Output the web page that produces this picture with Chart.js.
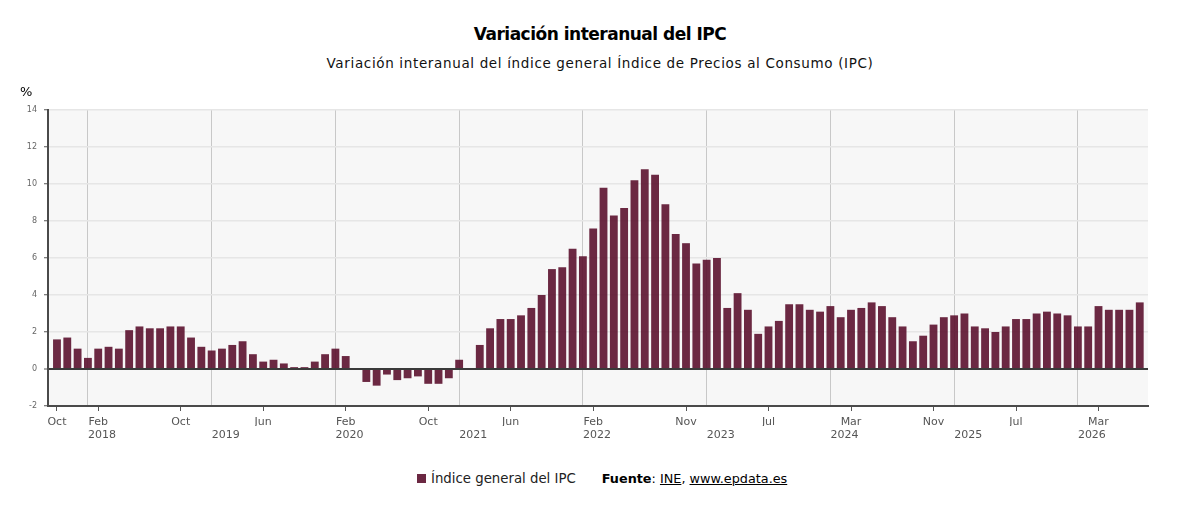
<!DOCTYPE html>
<html lang="es">
<head>
  <meta charset="UTF-8">
  <title>Variación interanual del IPC</title>
  <script src="https://cdn.jsdelivr.net/npm/chart.js"></script>
  <style>
    body { margin: 0; background: #fff; font-family: 'DejaVu Sans', sans-serif; }
    #wrap { position: relative; width: 1200px; height: 515px; }
    #box { position: absolute; left: 0; top: 0; width: 1200px; height: 455px; }
    .t { position: absolute; left: 0; width: 1200px; text-align: center; white-space: nowrap; }
    #title { top: 24px; font-size: 17px; line-height: 20px; font-weight: bold; letter-spacing: -0.5px; color: #000; }
    #subtitle { top: 54px; font-size: 13.5px; line-height: 18px; letter-spacing: 0.65px; color: #111; }
    #unit { position: absolute; left: 20px; top: 84px; font-size: 13px; color: #000; }
    #foot { position: absolute; left: 417px; top: 471px; font-size: 13.3px; color: #222; display: flex; align-items: center; white-space: nowrap; }
    #foot .sq { display: inline-block; width: 9px; height: 9px; background: #6b2842; margin-right: 5px; }
    #foot .src { margin-left: 26px; color: #000; font-size: 12.8px; }
    #foot u { text-decoration: underline; }
  </style>
  <script>
    // serie mensual desde oct 2017
    const startYear = 2017
    const startMonth = 9 // octubre
    const monthNames = ['Ene', 'Feb', 'Mar', 'Abr', 'May', 'Jun', 'Jul', 'Ago', 'Sep', 'Oct', 'Nov', 'Dic']

    const ipc = [
      1.6, 1.7, 1.1,
      0.6, 1.1, 1.2, 1.1, 2.1, 2.3, 2.2, 2.2, 2.3, 2.3, 1.7, 1.2,
      1.0, 1.1, 1.3, 1.5, 0.8, 0.4, 0.5, 0.3, 0.1, 0.1, 0.4, 0.8,
      1.1, 0.7, 0.0, -0.7, -0.9, -0.3, -0.6, -0.5, -0.4, -0.8, -0.8, -0.5,
      0.5, 0.0, 1.3, 2.2, 2.7, 2.7, 2.9, 3.3, 4.0, 5.4, 5.5, 6.5,
      6.1, 7.6, 9.8, 8.3, 8.7, 10.2, 10.8, 10.5, 8.9, 7.3, 6.8, 5.7,
      5.9, 6.0, 3.3, 4.1, 3.2, 1.9, 2.3, 2.6, 3.5, 3.5, 3.2, 3.1,
      3.4, 2.8, 3.2, 3.3, 3.6, 3.4, 2.8, 2.3, 1.5, 1.8, 2.4, 2.8,
      2.9, 3.0, 2.3, 2.2, 2.0, 2.3, 2.7, 2.7, 3.0, 3.1, 3.0, 2.9,
      2.3, 2.3, 3.4, 3.2, 3.2, 3.2, 3.6
    ]

    // etiquetas del eje: mes marcado -> texto
    const monthTicks = ['Oct 2017', 'Feb 2018', 'Oct 2018', 'Jun 2019', 'Feb 2020', 'Oct 2020', 'Jun 2021',
      'Feb 2022', 'Nov 2022', 'Jul 2023', 'Mar 2024', 'Nov 2024', 'Jul 2025', 'Mar 2026']
    const monthTickText = ['Oct', 'Feb', 'Oct', 'Jun', 'Feb', 'Oct', 'Jun', 'Feb', 'Nov', 'Jul', 'Mar', 'Nov', 'Jul', 'Mar']
    const yearTicks = ['Ene 2018', 'Ene 2019', 'Ene 2020', 'Ene 2021', 'Ene 2022', 'Ene 2023', 'Ene 2024', 'Ene 2025', 'Ene 2026']
    const yearTickText = ['2018', '2019', '2020', '2021', '2022', '2023', '2024', '2025', '2026']

    const categories = ipc.map((v, i) => {
      const m = startMonth + i
      return monthNames[m % 12] + ' ' + (startYear + Math.floor(m / 12))
    })

    window.onload = () => {
      const chart = document.getElementById('chart')
      const monthIdx = monthTicks.map(t => categories.indexOf(t))
      const yearIdx = yearTicks.map(t => categories.indexOf(t))
      const xMin = -0.87
      const xMax = ipc.length - 1 + 0.8

      const plotBg = {
        id: 'plotBg',
        beforeDraw(c) {
          const a = c.chartArea
          c.ctx.save()
          c.ctx.fillStyle = '#f7f7f7'
          c.ctx.fillRect(a.left, a.top, a.right - a.left, a.bottom - a.top)
          c.ctx.restore()
        }
      }

      new Chart(chart, {
        type: 'bar',
        data: {
          datasets: [{
            label: 'Índice general del IPC',
            data: ipc.map((v, i) => ({ x: i, y: v })),
            backgroundColor: 'rgba(91,17,46,0.9)',
            borderWidth: 0,
            categoryPercentage: 1,
            barPercentage: 0.76
          }]
        },
        options: {
          responsive: true,
          maintainAspectRatio: false,
          animation: false,
          layout: { padding: { left: 0, right: 52, top: 110, bottom: 9 } },
          plugins: {
            legend: { display: false },
            tooltip: { enabled: false }
          },
          scales: {
            x: {
              type: 'linear',
              position: 'bottom',
              offset: false,
              min: xMin,
              max: xMax,
              afterBuildTicks: s => { s.ticks = monthIdx.map(v => ({ value: v })) },
              afterFit: s => { s.height = 20 },
              ticks: {
                autoSkip: false,
                maxRotation: 0,
                padding: 5,
                color: '#555',
                font: { family: 'DejaVu Sans', size: 11 },
                callback: v => monthTickText[monthIdx.indexOf(v)]
              },
              grid: { offset: false, drawOnChartArea: false, drawTicks: true, tickLength: 5, tickColor: '#555', tickWidth: 1 },
              border: { color: '#4a4a4a', width: 2 }
            },
            xYear: {
              type: 'linear',
              position: 'bottom',
              offset: false,
              min: xMin,
              max: xMax,
              afterBuildTicks: s => { s.ticks = yearIdx.map(v => ({ value: v })) },
              afterFit: s => { s.height = 20 },
              ticks: {
                autoSkip: false,
                maxRotation: 0,
                align: 'start',
                padding: 3,
                color: '#555',
                font: { family: 'DejaVu Sans', size: 11 },
                callback: v => yearTickText[yearIdx.indexOf(v)]
              },
              grid: { offset: false, color: '#c8c8c8', lineWidth: 1, drawTicks: false },
              border: { display: false }
            },
            y: {
              min: -2,
              max: 14,
              afterFit: s => { s.width = 48 },
              ticks: {
                stepSize: 2,
                padding: 7,
                color: '#666',
                font: { family: 'DejaVu Sans', size: 8 }
              },
              grid: {
                color: c => c.tick.value === 0 ? '#3a3a3a' : '#e6e6e6',
                lineWidth: c => c.tick.value === 0 ? 2 : 1.5,
                tickLength: 4,
                tickColor: '#555',
                tickWidth: 1
              },
              border: { color: '#4a4a4a', width: 2 }
            }
          }
        },
        plugins: [plotBg]
      })
    }
  </script>
</head>
<body>
  <div id="wrap">
    <div id="title" class="t">Variación interanual del IPC</div>
    <div id="subtitle" class="t">Variación interanual del índice general Índice de Precios al Consumo (IPC)</div>
    <div id="box"><canvas id="chart"></canvas></div>
    <div id="unit">%</div>
    <div id="foot">
      <span class="sq"></span><span>Índice general del IPC</span>
      <span class="src"><b>Fuente</b>: <u>INE</u>, <u>www.epdata.es</u></span>
    </div>
  </div>
</body>
</html>
